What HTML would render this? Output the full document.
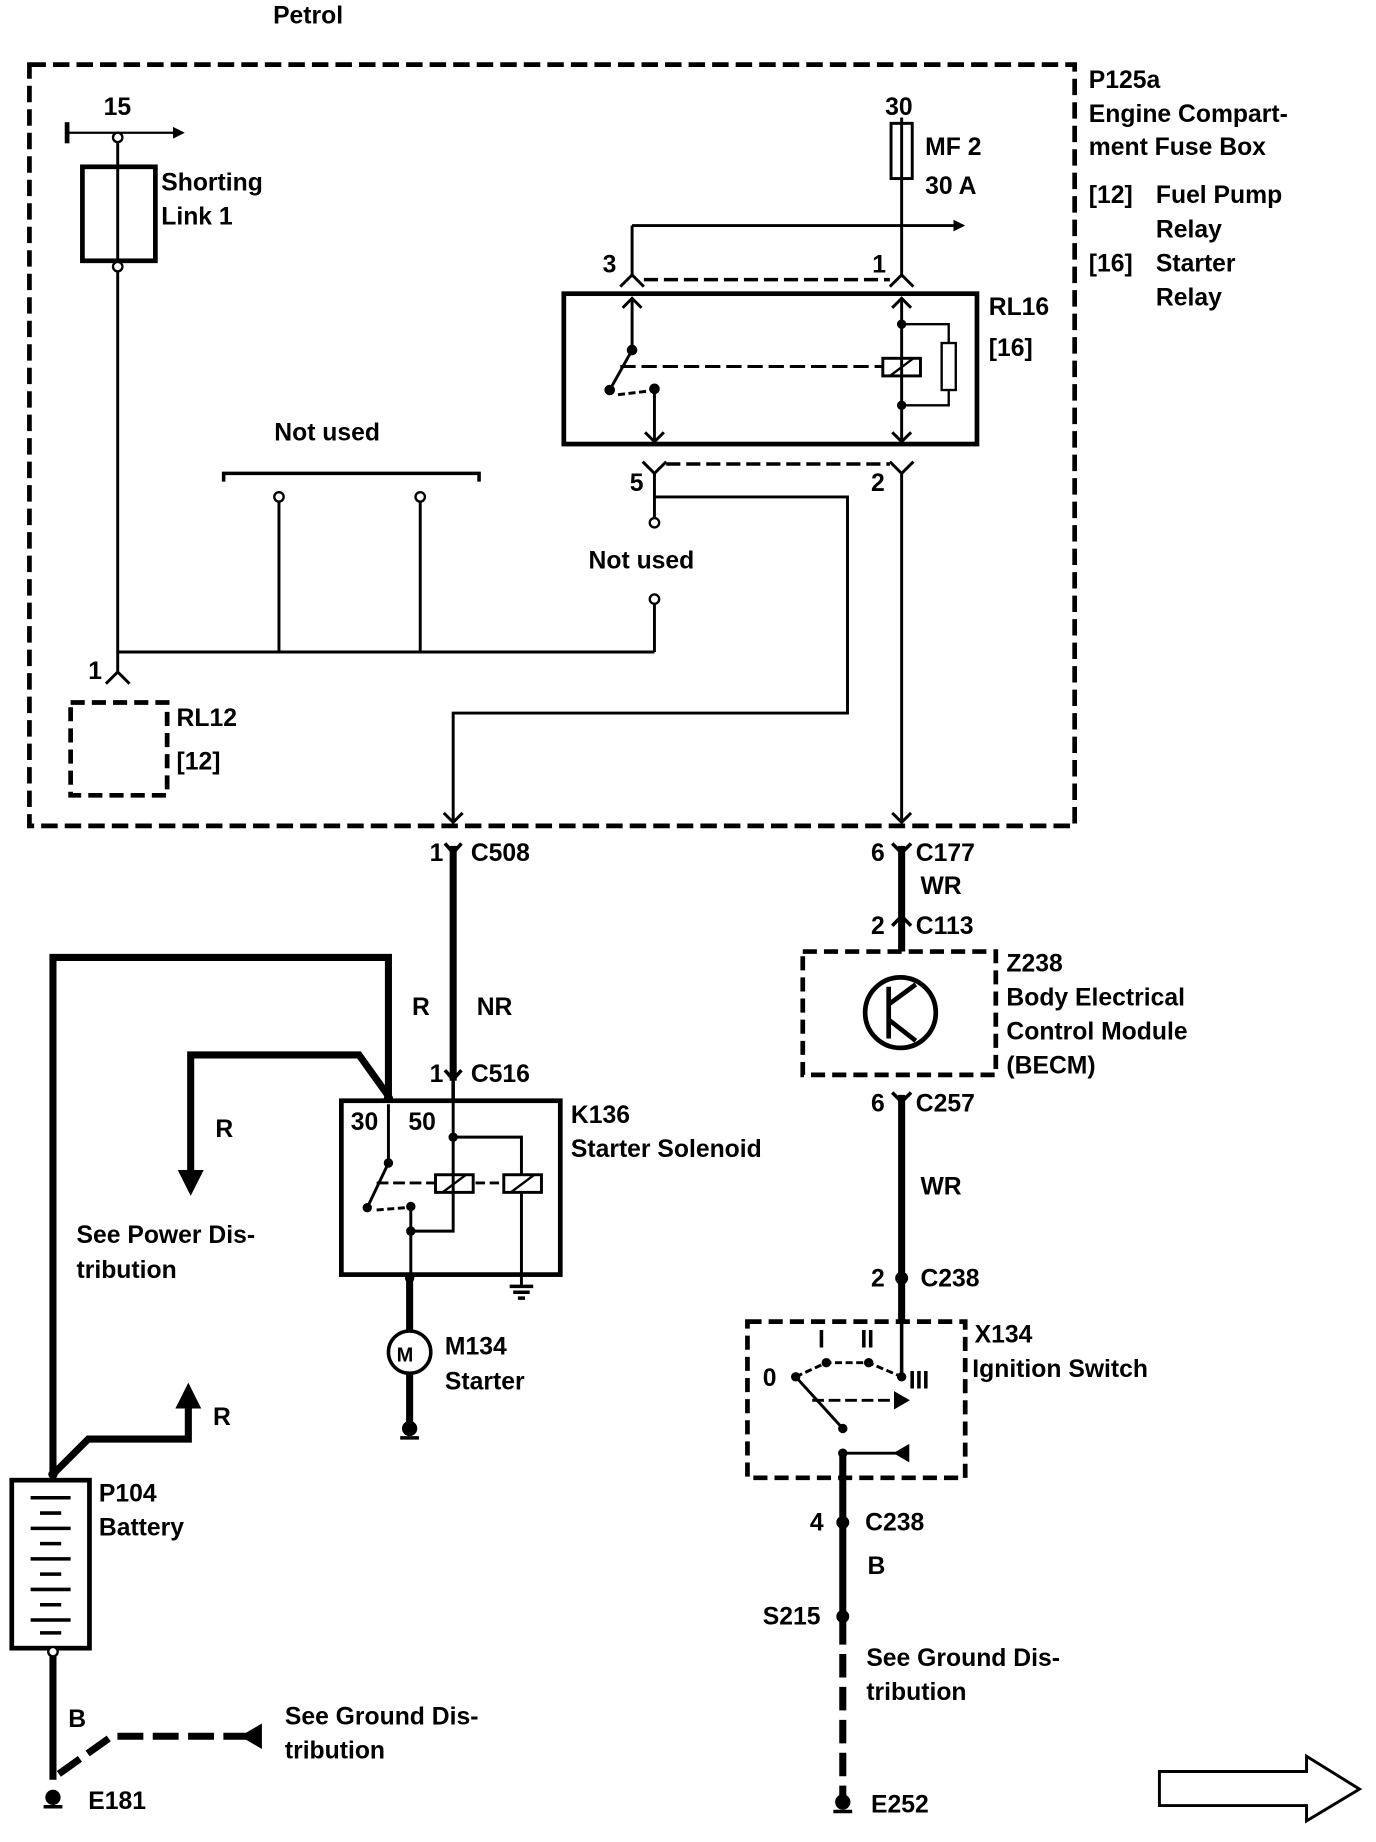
<!DOCTYPE html>
<html><head><meta charset="utf-8"><style>
html,body{margin:0;padding:0;background:#fff;}
svg{display:block}
text{font-family:"Liberation Sans",sans-serif;font-weight:bold;font-size:21px;fill:#000}
</style></head><body>
<svg width="1376" height="1842" viewBox="0 0 1169 1568" preserveAspectRatio="none" xmlns="http://www.w3.org/2000/svg">
<defs>
<marker id="ah" markerWidth="10" markerHeight="10" refX="8" refY="5" orient="auto" markerUnits="userSpaceOnUse"><path d="M0,0 L10,5 L0,10 z" fill="#000"/></marker>
<marker id="big" markerWidth="22" markerHeight="22" refX="14" refY="11" orient="auto" markerUnits="userSpaceOnUse"><path d="M0,0 L22,11 L0,22 z" fill="#000"/></marker>
</defs>
<g fill="none" stroke="#000">
<rect x="25" y="55" width="888" height="648" stroke-width="4" stroke-dasharray="14 6"/>
<line x1="57" y1="104" x2="57" y2="122" stroke-width="4"/>
<line x1="57" y1="113" x2="155" y2="113" stroke-width="2" marker-end="url(#ah)"/>
<rect x="70" y="142" width="62" height="80" stroke-width="4"/>
<line x1="100" y1="113" x2="100" y2="555" stroke-width="2.5"/>
<circle cx="100" cy="117" r="4" fill="#fff" stroke-width="2"/>
<circle cx="100" cy="227" r="4" fill="#fff" stroke-width="2"/>
<line x1="100" y1="555" x2="556" y2="555" stroke-width="2.5"/>
<line x1="556" y1="555" x2="556" y2="514" stroke-width="2.5"/>
<circle cx="556" cy="510" r="4" fill="#fff" stroke-width="2"/>
<line x1="237" y1="427" x2="237" y2="555" stroke-width="2.5"/>
<line x1="357" y1="427" x2="357" y2="555" stroke-width="2.5"/>
<circle cx="237" cy="423" r="4" fill="#fff" stroke-width="2"/>
<circle cx="357" cy="423" r="4" fill="#fff" stroke-width="2"/>
<path d="M190,410 L190,403 L407,403 L407,410" stroke-width="3"/>
<path d="M100,555 L100,572 M90,582 L100,572 L110,582" stroke-width="2.5"/>
<rect x="60" y="598" width="82" height="79" stroke-width="4" stroke-dasharray="12 6"/>
<rect x="757" y="105" width="18" height="47" stroke-width="2.5"/>
<line x1="766" y1="100" x2="766" y2="236" stroke-width="2.5"/>
<line x1="537" y1="192" x2="818" y2="192" stroke-width="2.5" marker-end="url(#ah)"/>
<line x1="537" y1="192" x2="537" y2="236" stroke-width="2.5"/>
<path d="M527,244 L537,234 L547,244 M756,244 L766,234 L776,244" stroke-width="2.5"/>
<line x1="547" y1="238" x2="756" y2="238" stroke-width="3" stroke-dasharray="12 5"/>
<rect x="479" y="250" width="351" height="128" stroke-width="4"/>
<line x1="537" y1="254" x2="537" y2="298" stroke-width="2.5"/>
<path d="M529,262 L537,254 L545,262 M758,262 L766,254 L774,262" stroke-width="2.5"/>
<line x1="537" y1="298" x2="518" y2="332" stroke-width="2.5"/>
<circle cx="537" cy="298" r="4" fill="#000"/>
<circle cx="518" cy="332" r="4" fill="#000"/>
<circle cx="556" cy="331" r="4" fill="#000"/>
<line x1="556" y1="331" x2="556" y2="376" stroke-width="2.5"/>
<path d="M548,368 L556,376 L564,368 M758,368 L766,376 L774,368" stroke-width="2.5"/>
<line x1="527" y1="312" x2="750" y2="312" stroke-width="2.5" stroke-dasharray="13 5"/>
<line x1="525" y1="336" x2="550" y2="333" stroke-width="2.5" stroke-dasharray="6 3"/>
<line x1="766" y1="254" x2="766" y2="376" stroke-width="2.5"/>
<rect x="750" y="305" width="32" height="15" stroke-width="2.5"/>
<line x1="756" y1="320" x2="776" y2="305" stroke-width="2"/>
<path d="M766,276 L806,276 L806,292 M766,345 L806,345 L806,332" stroke-width="2"/>
<rect x="800" y="292" width="12" height="40" stroke-width="2"/>
<circle cx="766" cy="276" r="3.5" fill="#000"/>
<circle cx="766" cy="345" r="3.5" fill="#000"/>
<path d="M546,393 L556,403 L566,393 M756,393 L766,403 L776,393" stroke-width="2.5"/>
<line x1="566" y1="395" x2="756" y2="395" stroke-width="3" stroke-dasharray="12 5"/>
<line x1="556" y1="403" x2="556" y2="441" stroke-width="2.5"/>
<circle cx="556" cy="445" r="4" fill="#fff" stroke-width="2"/>
<path d="M556,423 L720,423 L720,607 L385,607 L385,700" stroke-width="2.5"/>
<path d="M377,692 L385,700 L393,692" stroke-width="2.5"/>
<line x1="766" y1="403" x2="766" y2="700" stroke-width="2.5"/>
<path d="M758,692 L766,700 L774,692" stroke-width="2.5"/>
<path d="M378,718 L385,726 L392,718" stroke-width="3"/>
<line x1="385" y1="720" x2="385" y2="920" stroke-width="6"/>
<path d="M378,911 L385,919 L392,911" stroke-width="3"/>
<line x1="385" y1="920" x2="385" y2="937" stroke-width="3"/>
<path d="M45,1255 L45,815 L330,815 L330,933" stroke-width="6"/>
<path d="M330,933 L305,898 L162,898 L162,1010" stroke-width="6" marker-end="url(#big)"/>
<rect x="290" y="937" width="186" height="148" stroke-width="4"/>
<circle cx="330" cy="935" r="3.5" fill="#000"/>
<line x1="330" y1="940" x2="330" y2="990" stroke-width="2.5"/>
<line x1="330" y1="990" x2="312" y2="1028" stroke-width="2.5"/>
<circle cx="330" cy="990" r="3.5" fill="#000"/>
<circle cx="312" cy="1028" r="3.5" fill="#000"/>
<circle cx="349" cy="1027" r="3.5" fill="#000"/>
<line x1="320" y1="1030" x2="345" y2="1028" stroke-width="2.5" stroke-dasharray="6 3"/>
<line x1="320" y1="1007" x2="370" y2="1007" stroke-width="2.5" stroke-dasharray="10 4"/>
<line x1="404" y1="1007" x2="428" y2="1007" stroke-width="2.5" stroke-dasharray="8 4"/>
<rect x="370" y="1000" width="32" height="15" stroke-width="2.5"/>
<line x1="376" y1="1015" x2="396" y2="1000" stroke-width="2"/>
<rect x="428" y="1000" width="32" height="15" stroke-width="2.5"/>
<line x1="434" y1="1015" x2="454" y2="1000" stroke-width="2"/>
<path d="M385,937 L385,1048 L349,1048 M385,968 L443,968 L443,1000 M443,1015 L443,1095" stroke-width="2.5"/>
<line x1="349" y1="1027" x2="349" y2="1085" stroke-width="2.5"/>
<circle cx="385" cy="968" r="3.5" fill="#000"/>
<circle cx="349" cy="1048" r="3.5" fill="#000"/>
<path d="M433,1095 L453,1095 M436,1100 L450,1100 M440,1105 L446,1105" stroke-width="3"/>
<line x1="348" y1="1085" x2="348" y2="1132" stroke-width="6"/>
<circle cx="348" cy="1088" r="3.5" fill="#000"/>
<circle cx="348" cy="1151" r="18" stroke-width="3"/>
<line x1="348" y1="1169" x2="348" y2="1212" stroke-width="6"/>
<circle cx="348" cy="1216" r="6" fill="#000"/>
<line x1="340" y1="1224" x2="356" y2="1224" stroke-width="3"/>
<path d="M45,1255 L75,1225 L160,1225 L160,1185" stroke-width="6" marker-end="url(#big)"/>
<circle cx="45" cy="1255" r="3.5" fill="#000"/>
<rect x="10" y="1260" width="66" height="143" stroke-width="4"/>
<g stroke-width="3">
<line x1="26" y1="1275" x2="60" y2="1275"/><line x1="34" y1="1288" x2="52" y2="1288"/>
<line x1="26" y1="1301" x2="60" y2="1301"/><line x1="34" y1="1314" x2="52" y2="1314"/>
<line x1="26" y1="1327" x2="60" y2="1327"/><line x1="34" y1="1340" x2="52" y2="1340"/>
<line x1="26" y1="1353" x2="60" y2="1353"/><line x1="34" y1="1366" x2="52" y2="1366"/>
<line x1="26" y1="1379" x2="60" y2="1379"/><line x1="34" y1="1390" x2="52" y2="1390"/>
</g>
<line x1="45" y1="1403" x2="45" y2="1515" stroke-width="6"/>
<circle cx="45" cy="1406" r="4" fill="#fff" stroke-width="2"/>
<path d="M50,1510 L95,1478 L210,1478" stroke-width="6" stroke-dasharray="22 8"/>
<path d="M222,1468 L205,1478 L222,1488 z" fill="#000"/>
<circle cx="45" cy="1530" r="6" fill="#000"/>
<line x1="37" y1="1538" x2="53" y2="1538" stroke-width="3"/>
<path d="M758,718 L766,726 L774,718" stroke-width="3"/>
<line x1="766" y1="720" x2="766" y2="810" stroke-width="6"/>
<path d="M758,788 L766,780 L774,788" stroke-width="3"/>
<rect x="682" y="810" width="164" height="105" stroke-width="4" stroke-dasharray="12 6"/>
<circle cx="765" cy="862" r="30" stroke-width="4"/>
<path d="M755,840 L755,884 M755,855 L778,838 M755,868 L778,886" stroke-width="4"/>
<path d="M758,930 L766,938 L774,930" stroke-width="3"/>
<line x1="766" y1="932" x2="766" y2="1125" stroke-width="6"/>
<circle cx="766" cy="1088" r="5" fill="#000"/>
<rect x="635" y="1125" width="185" height="133" stroke-width="4" stroke-dasharray="12 6"/>
<line x1="766" y1="1125" x2="766" y2="1170" stroke-width="3"/>
<circle cx="766" cy="1172" r="3.5" fill="#000"/>
<circle cx="676" cy="1172" r="3.5" fill="#000"/>
<circle cx="702" cy="1160" r="3.5" fill="#000"/>
<circle cx="738" cy="1160" r="3.5" fill="#000"/>
<path d="M676,1172 L702,1160 L738,1160 L766,1172" stroke-width="2.5" stroke-dasharray="6 3"/>
<line x1="676" y1="1172" x2="716" y2="1216" stroke-width="2.5"/>
<line x1="690" y1="1192" x2="760" y2="1192" stroke-width="2.5" stroke-dasharray="10 4"/>
<path d="M760,1185 L772,1192 L760,1199 z" fill="#000"/>
<circle cx="716" cy="1216" r="3.5" fill="#000"/>
<circle cx="716" cy="1237" r="3.5" fill="#000"/>
<path d="M716,1237 L768,1237" stroke-width="2.5"/>
<path d="M772,1230 L760,1237 L772,1244 z" fill="#000"/>
<line x1="716" y1="1237" x2="716" y2="1380" stroke-width="6"/>
<circle cx="716" cy="1296" r="5" fill="#000"/>
<circle cx="716" cy="1376" r="5" fill="#000"/>
<line x1="716" y1="1380" x2="716" y2="1530" stroke-width="6" stroke-dasharray="20 8"/>
<circle cx="716" cy="1534" r="6" fill="#000"/>
<line x1="708" y1="1542" x2="724" y2="1542" stroke-width="3"/>
<path d="M985,1508 L1110,1508 L1110,1495 L1155,1523 L1110,1550 L1110,1537 L985,1537 z" stroke-width="2.5"/>
</g>
<text x="232" y="20">Petrol</text>
<text x="925" y="75">P125a</text>
<text x="925" y="104">Engine Compart-</text>
<text x="925" y="132">ment Fuse Box</text>
<text x="925" y="173">[12]</text><text x="982" y="173">Fuel Pump</text>
<text x="982" y="202">Relay</text>
<text x="925" y="231">[16]</text><text x="982" y="231">Starter</text>
<text x="982" y="260">Relay</text>
<text x="88" y="98">15</text>
<text x="137" y="162">Shorting</text>
<text x="137" y="191">Link 1</text>
<text x="233" y="375">Not used</text>
<text x="500" y="484">Not used</text>
<text x="75" y="578">1</text>
<text x="150" y="618">RL12</text>
<text x="150" y="655">[12]</text>
<text x="752" y="98">30</text>
<text x="786" y="132">MF 2</text>
<text x="786" y="165">30 A</text>
<text x="512" y="232">3</text>
<text x="741" y="232">1</text>
<text x="840" y="268">RL16</text>
<text x="840" y="303">[16]</text>
<text x="535" y="418">5</text>
<text x="740" y="418">2</text>
<text x="365" y="733">1</text><text x="400" y="733">C508</text>
<text x="350" y="864">R</text><text x="405" y="864">NR</text>
<text x="365" y="921">1</text><text x="400" y="921">C516</text>
<text x="183" y="968">R</text>
<text x="65" y="1058">See Power Dis-</text>
<text x="65" y="1088">tribution</text>
<text x="298" y="962">30</text><text x="347" y="962">50</text>
<text x="485" y="956">K136</text>
<text x="485" y="985">Starter Solenoid</text>
<text x="337" y="1159" style="font-size:17px">M</text>
<text x="378" y="1153">M134</text>
<text x="378" y="1183">Starter</text>
<text x="181" y="1213">R</text>
<text x="84" y="1278">P104</text>
<text x="84" y="1307">Battery</text>
<text x="58" y="1470">B</text>
<text x="242" y="1468">See Ground Dis-</text>
<text x="242" y="1497">tribution</text>
<text x="75" y="1540">E181</text>
<text x="740" y="733">6</text><text x="778" y="733">C177</text>
<text x="782" y="761">WR</text>
<text x="740" y="795">2</text><text x="778" y="795">C113</text>
<text x="855" y="827">Z238</text>
<text x="855" y="856">Body Electrical</text>
<text x="855" y="885">Control Module</text>
<text x="855" y="914">(BECM)</text>
<text x="740" y="946">6</text><text x="778" y="946">C257</text>
<text x="782" y="1017">WR</text>
<text x="740" y="1095">2</text><text x="782" y="1095">C238</text>
<text x="828" y="1143">X134</text>
<text x="826" y="1172">Ignition Switch</text>
<text x="648" y="1180">0</text>
<text x="695" y="1147">I</text>
<text x="731" y="1147">II</text>
<text x="772" y="1182">III</text>
<text x="688" y="1303">4</text><text x="735" y="1303">C238</text>
<text x="737" y="1340">B</text>
<text x="648" y="1383">S215</text>
<text x="736" y="1418">See Ground Dis-</text>
<text x="736" y="1447">tribution</text>
<text x="740" y="1543">E252</text>
</svg>
</body></html>
